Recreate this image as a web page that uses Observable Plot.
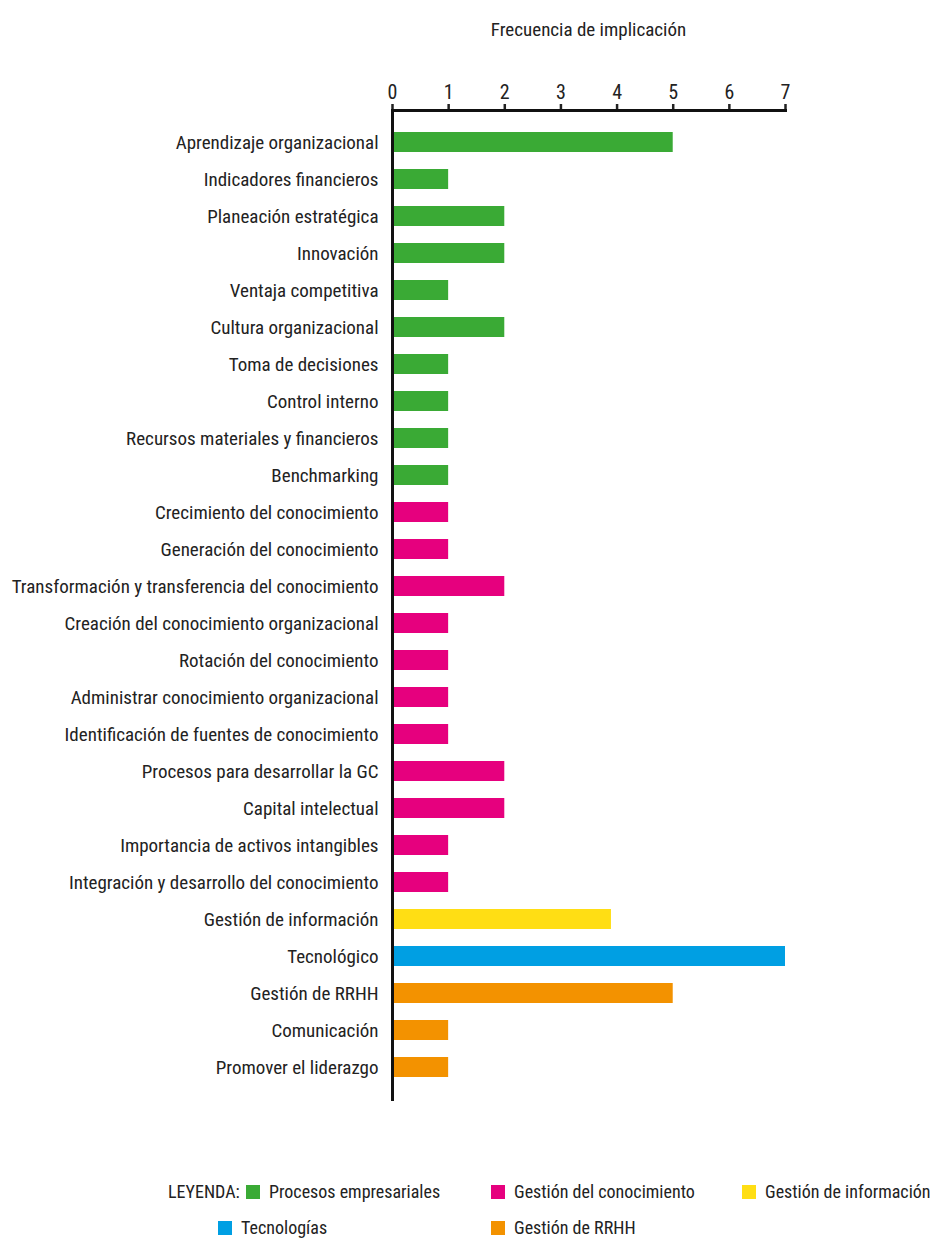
<!DOCTYPE html>
<html>
<head>
<meta charset="utf-8">
<script src="https://cdn.jsdelivr.net/npm/d3@7"></script>
<script src="https://cdn.jsdelivr.net/npm/@observablehq/plot@0.6"></script>
<style>
  body { margin: 0; background: #fff; font-family: "Roboto Condensed", "DejaVu Sans Condensed", "DejaVu Sans", sans-serif; font-stretch: condensed; color: #222; }
  #wrap { position: relative; width: 935px; height: 1240px; overflow: hidden; }
  #title { position: absolute; top: 18px; left: 392px; width: 393px; text-align: center; font-size: 19px; }
  #chart { position: absolute; top: 0; left: 0; }
  #chart svg text { font-stretch: condensed; }
  .lg { position: absolute; font-size: 18px; white-space: nowrap; display: flex; align-items: center; line-height: 22px; }
  .sw { width: 14px; height: 14px; display: inline-block; margin-right: 9px; }
</style>
</head>
<body>
<div id="wrap">
  <div id="title">Frecuencia de implicación</div>
  <div id="chart"></div>
  <div id="legend"></div>
</div>
<script>
const categories = [
  "Aprendizaje organizacional",
  "Indicadores financieros",
  "Planeación estratégica",
  "Innovación",
  "Ventaja competitiva",
  "Cultura organizacional",
  "Toma de decisiones",
  "Control interno",
  "Recursos materiales y financieros",
  "Benchmarking",
  "Crecimiento del conocimiento",
  "Generación del conocimiento",
  "Transformación y transferencia del conocimiento",
  "Creación del conocimiento organizacional",
  "Rotación del conocimiento",
  "Administrar conocimiento organizacional",
  "Identificación de fuentes de conocimiento",
  "Procesos para desarrollar la GC",
  "Capital intelectual",
  "Importancia de activos intangibles",
  "Integración y desarrollo del conocimiento",
  "Gestión de información",
  "Tecnológico",
  "Gestión de RRHH",
  "Comunicación",
  "Promover el liderazgo"
];
const values = [5, 1, 2, 2, 1, 2, 1, 1, 1, 1, 1, 1, 2, 1, 1, 1, 1, 2, 2, 1, 1, 3.9, 7, 5, 1, 1];
const groups = [
  "Procesos empresariales","Procesos empresariales","Procesos empresariales","Procesos empresariales","Procesos empresariales",
  "Procesos empresariales","Procesos empresariales","Procesos empresariales","Procesos empresariales","Procesos empresariales",
  "Gestión del conocimiento","Gestión del conocimiento","Gestión del conocimiento","Gestión del conocimiento","Gestión del conocimiento",
  "Gestión del conocimiento","Gestión del conocimiento","Gestión del conocimiento","Gestión del conocimiento","Gestión del conocimiento",
  "Gestión del conocimiento",
  "Gestión de información",
  "Tecnologías",
  "Gestión de RRHH","Gestión de RRHH","Gestión de RRHH"
];
const legendLabels = ["Procesos empresariales", "Gestión del conocimiento", "Gestión de información", "Tecnologías", "Gestión de RRHH"];
const legendColors = ["#3aaa35", "#e6007e", "#ffde14", "#009fe3", "#f39200"];
const xTicks = [0, 1, 2, 3, 4, 5, 6, 7];

const data = categories.map((c, i) => ({ cat: c, value: values[i], group: groups[i] }));

const chart = Plot.plot({
  width: 935,
  height: 1110,
  marginLeft: 392,
  marginRight: 150,
  marginTop: 110,
  marginBottom: 11,
  style: { fontFamily: '"Roboto Condensed", "DejaVu Sans Condensed", "DejaVu Sans", sans-serif', fontSize: "19px", color: "#222" },
  x: { domain: [0, 7], ticks: xTicks, label: null },
  y: { domain: categories, paddingInner: 0.46, paddingOuter: 0.48, label: null },
  color: { domain: legendLabels, range: legendColors },
  marks: [
    Plot.barX(data, { y: "cat", x: "value", fill: "group" }),
    Plot.axisX({ anchor: "top", ticks: xTicks, tickFormat: d3.format("d"), tickSize: 7, tickPadding: 5, strokeWidth: 2.5, fontSize: 20, label: null }),
    Plot.axisY({ anchor: "left", tickSize: 0, tickPadding: 14, fontSize: 19, label: null }),
    Plot.frame({ anchor: "top", stroke: "#111", strokeWidth: 3 }),
    Plot.frame({ anchor: "left", stroke: "#111", strokeWidth: 3 })
  ]
});
document.getElementById("chart").appendChild(chart);

const legend = document.getElementById("legend");
const lead = document.createElement("div");
lead.className = "lg";
lead.style.left = "168px";
lead.style.top = "1181px";
lead.textContent = "LEYENDA:";
legend.appendChild(lead);
const pos = [[246, 1181], [491, 1181], [742, 1181], [218, 1217], [491, 1217]];
legendLabels.forEach((l, i) => {
  const d = document.createElement("div");
  d.className = "lg";
  d.style.left = pos[i][0] + "px";
  d.style.top = pos[i][1] + "px";
  const s = document.createElement("span");
  s.className = "sw";
  s.style.background = legendColors[i];
  d.appendChild(s);
  d.appendChild(document.createTextNode(l));
  legend.appendChild(d);
});
</script>
</body>
</html>
